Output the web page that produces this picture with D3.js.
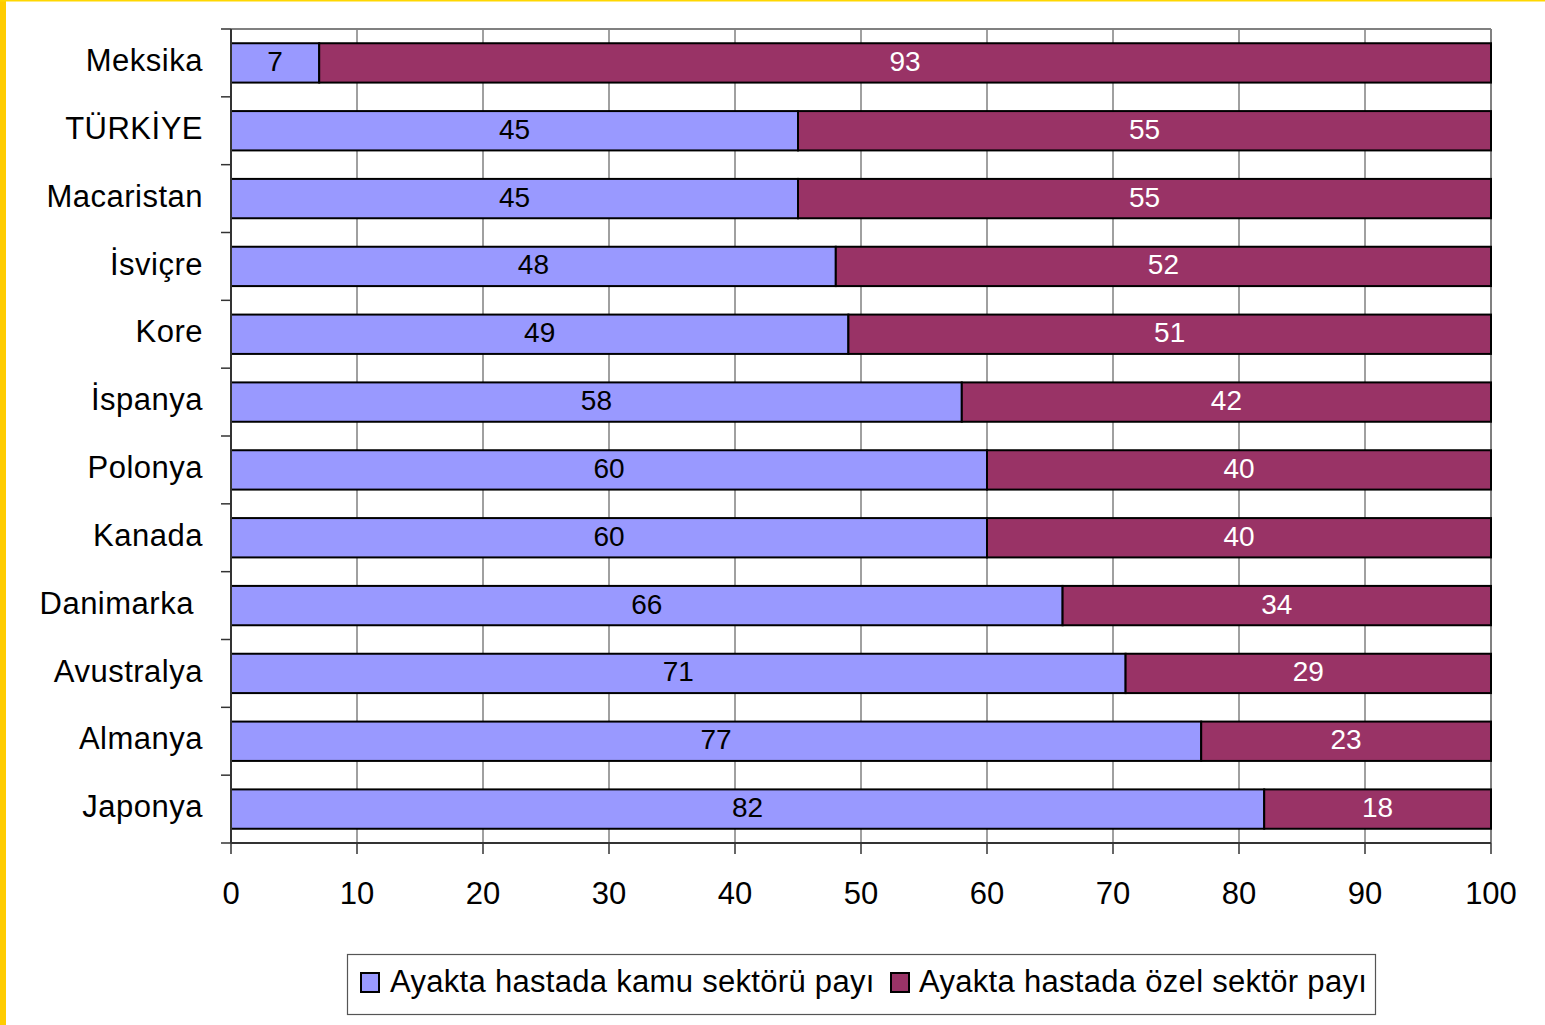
<!DOCTYPE html>
<html><head><meta charset="utf-8">
<script src="https://cdn.jsdelivr.net/npm/d3@7"></script>
<style>
html,body{margin:0;padding:0;background:#fff;}
svg{display:block;}
text{font-family:"Liberation Sans",Arial,sans-serif;}
</style></head>
<body>
<script>
const categories = ["Meksika","TÜRKİYE","Macaristan","İsviçre","Kore","İspanya","Polonya","Kanada","Danimarka ","Avustralya","Almanya","Japonya"];
const publicShare = [7,45,45,48,49,58,60,60,66,71,77,82];
const privateShare = [93,55,55,52,51,42,40,40,34,29,23,18];
const seriesNames = ["Ayakta hastada kamu sektörü payı","Ayakta hastada özel sektör payı"];
const xTicks = [0,10,20,30,40,50,60,70,80,90,100];

(function(){
const W=1545,H=1025;
const svg=d3.select("body").append("svg").attr("width",W).attr("height",H);
svg.append("rect").attr("width",W).attr("height",H).attr("fill","#fff");
// yellow frame
svg.append("rect").attr("x",0).attr("y",0).attr("width",6).attr("height",H).attr("fill","#FFCC00");
svg.append("rect").attr("x",0).attr("y",0).attr("width",W).attr("height",1.5).attr("fill","#FFD700");

const pL=231,pR=1491,pT=29,pB=843;
const x=d3.scaleLinear().domain([0,100]).range([pL,pR]);
const y=d3.scaleBand().domain(categories).range([pT,pB]).paddingInner(0.42).paddingOuter(0.21);
const yb=d3.scaleBand().domain(categories).range([pT,pB]);

// gridlines
svg.append("g").selectAll("line").data(xTicks.slice(1)).join("line")
  .attr("x1",d=>x(d)).attr("x2",d=>x(d)).attr("y1",pT).attr("y2",pB)
  .attr("stroke","#808080").attr("stroke-width",1.5);
svg.append("line").attr("x1",pL).attr("x2",pR).attr("y1",pT).attr("y2",pT)
  .attr("stroke","#808080").attr("stroke-width",2);
svg.append("line").attr("x1",pR).attr("x2",pR).attr("y1",pT).attr("y2",pB)
  .attr("stroke","#808080").attr("stroke-width",2);

// bars
const colors=["#9999FF","#993366"];
const rows=categories.map((c,i)=>({c,a:publicShare[i],b:privateShare[i]}));
const g=svg.append("g");
g.selectAll("rect.pub").data(rows).join("rect").attr("class","pub")
  .attr("x",x(0)).attr("y",d=>y(d.c)).attr("width",d=>x(d.a)-x(0)).attr("height",y.bandwidth())
  .attr("fill",colors[0]).attr("stroke","#000").attr("stroke-width",2);
g.selectAll("rect.pri").data(rows).join("rect").attr("class","pri")
  .attr("x",d=>x(d.a)).attr("y",d=>y(d.c)).attr("width",d=>x(d.a+d.b)-x(d.a)).attr("height",y.bandwidth())
  .attr("fill",colors[1]).attr("stroke","#000").attr("stroke-width",2);

// value labels
g.selectAll("text.pubv").data(rows).join("text").attr("class","pubv")
  .attr("x",d=>x(d.a/2)).attr("y",d=>y(d.c)+y.bandwidth()/2-2).attr("dy","0.36em")
  .attr("text-anchor","middle").attr("font-size",28).attr("fill","#000").text(d=>d.a);
g.selectAll("text.priv").data(rows).join("text").attr("class","priv")
  .attr("x",d=>x(d.a+d.b/2)).attr("y",d=>y(d.c)+y.bandwidth()/2-2).attr("dy","0.36em")
  .attr("text-anchor","middle").attr("font-size",28).attr("fill","#fff").text(d=>d.b);

// left axis
const ya=svg.append("g");
ya.append("line").attr("x1",pL).attr("x2",pL).attr("y1",pT).attr("y2",pB).attr("stroke","#333").attr("stroke-width",2);
const bounds=categories.map(c=>yb(c)).concat([pB]);
ya.selectAll("line.t").data(bounds).join("line").attr("class","t")
  .attr("x1",pL-10).attr("x2",pL).attr("y1",d=>d).attr("y2",d=>d).attr("stroke","#333").attr("stroke-width",1.5);
ya.selectAll("text").data(categories).join("text")
  .attr("x",203).attr("y",d=>yb(d)+yb.bandwidth()/2-3).attr("dy","0.36em")
  .attr("text-anchor","end").attr("font-size",31).attr("letter-spacing",0.5)
  .style("white-space","pre").text(d=>d);

// bottom axis
const xa=svg.append("g");
xa.append("line").attr("x1",pL).attr("x2",pR).attr("y1",pB).attr("y2",pB).attr("stroke","#333").attr("stroke-width",2);
xa.selectAll("line.t").data(xTicks).join("line").attr("class","t")
  .attr("x1",d=>x(d)).attr("x2",d=>x(d)).attr("y1",pB).attr("y2",pB+11).attr("stroke","#333").attr("stroke-width",1.5);
xa.selectAll("text").data(xTicks).join("text")
  .attr("x",d=>x(d)).attr("y",893).attr("dy","0.36em").attr("text-anchor","middle")
  .attr("font-size",31).text(d=>d);

// legend
const lg=svg.append("g");
lg.append("rect").attr("x",347.5).attr("y",954.5).attr("width",1028).attr("height",60)
  .attr("fill","#fff").attr("stroke","#555").attr("stroke-width",1.2);
const items=[{n:seriesNames[0],c:colors[0],sx:361,tx:390},{n:seriesNames[1],c:colors[1],sx:891,tx:919}];
items.forEach(it=>{
  lg.append("rect").attr("x",it.sx).attr("y",973).attr("width",18).attr("height",19)
    .attr("fill",it.c).attr("stroke","#000").attr("stroke-width",2);
  lg.append("text").attr("x",it.tx).attr("y",981).attr("dy","0.36em").attr("font-size",31)
    .attr("letter-spacing",0.3).text(it.n);
});
})();
</script>
</body></html>
